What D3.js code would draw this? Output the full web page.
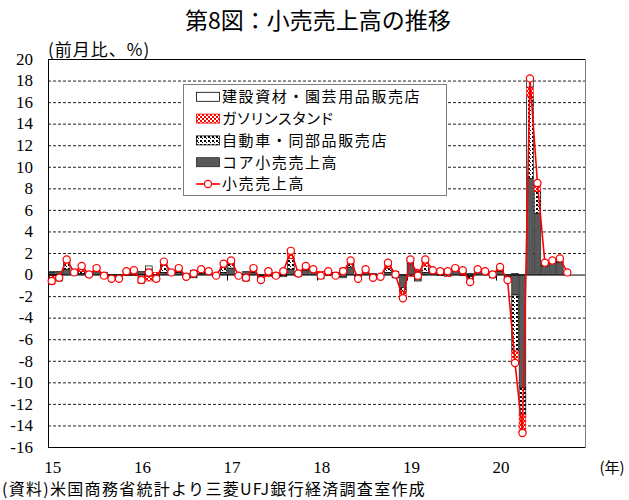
<!DOCTYPE html>
<html>
<head>
<meta charset="utf-8">
<script src="https://cdn.jsdelivr.net/npm/d3@7"></script>
<style>
  html, body { margin: 0; padding: 0; background: #fff; }
  svg { display: block; }
  .jp { font-family: "Noto Sans CJK JP", "Noto Sans", sans-serif; }
  .palt { font-feature-settings: "palt"; }
  .num { font-family: "Liberation Serif", "DejaVu Serif", serif; }
</style>
</head>
<body>
<svg id="chart" width="629" height="500"></svg>
<script>
// ---- data (前月比, %) Jan 2015 – Oct 2020 ----
const years = ["15", "16", "17", "18", "19", "20"];
const yTicks = [20, 18, 16, 14, 12, 10, 8, 6, 4, 2, 0, -2, -4, -6, -8, -10, -12, -14, -16];

const retailTotal = [
  -0.6, -0.3, 1.4, 0.2, 0.8, 0.0, 0.6, -0.1, -0.4, -0.4, 0.3, 0.4,
  -0.5, 0.2, -0.4, 1.2, 0.2, 0.6, -0.2, 0.1, 0.5, 0.3, -0.1, 1.0,
  1.3, -0.1, -0.3, 0.6, -0.5, 0.3, -0.1, 0.3, 2.2, 0.1, 0.8, 0.5,
  -0.1, 0.3, -0.1, 0.3, 1.3, -0.4, 0.5, -0.3, -0.2, 1.1, 0.0, -2.2,
  1.4, -0.1, 1.4, 0.4, 0.3, 0.3, 0.6, 0.4, -0.7, 0.5, 0.3, 0.0,
  0.7, -0.5, -8.2, -14.7, 18.2, 8.5, 1.1, 1.3, 1.5, 0.2
];
const coreRetail = [
  0.2, 0.3, 0.5, 0.1, 0.1, 0.0, 0.3, -0.1, 0.0, -0.1, 0.2, 0.4,
  0.3, -0.2, 0.0, 0.2, 0.0, 0.2, 0.0, 0.4, 0.1, 0.0, 0.0, 0.2,
  0.6, 0.1, 0.3, 0.2, -0.1, 0.4, 0.1, 0.2, 0.5, -0.1, 0.4, 0.4,
  0.1, 0.0, -0.2, 0.4, 0.7, -0.1, 0.3, -0.3, 0.0, 0.2, 0.3, -1.2,
  1.0, 0.4, 0.2, 0.2, 0.3, 0.3, 0.4, 0.2, -0.2, 0.3, 0.1, 0.2,
  0.3, -0.2, -1.9, -10.5, 8.9, 5.7, 0.8, 1.1, 1.1, 0.2
];
const autoDealers = [
  -0.1, -0.2, 0.6, 0.1, 0.2, -0.2, 0.2, 0.1, -0.1, -0.2, 0.1, 0.1,
  -0.4, 0.5, -0.5, 0.7, 0.0, 0.1, 0.1, -0.3, 0.2, 0.1, -0.1, 0.5,
  0.4, -0.1, -0.2, 0.2, -0.2, 0.1, -0.3, -0.1, 1.0, 0.2, 0.1, 0.1,
  -0.3, 0.3, 0.2, -0.2, 0.3, -0.3, 0.1, -0.1, -0.1, 0.4, 0.0, -0.4,
  0.4, -0.5, 0.6, 0.0, 0.1, 0.2, 0.0, 0.3, -0.5, 0.1, 0.1, -0.3,
  0.1, -0.1, -5.2, -2.5, 7.6, 2.0, 0.2, 0.1, 0.4, 0.0
];
const gasStations = [
  -0.8, -0.3, 0.2, 0.0, 0.4, 0.2, 0.1, -0.2, -0.3, -0.1, -0.1, -0.1,
  -0.3, -0.4, 0.2, 0.2, 0.2, 0.2, -0.2, 0.0, 0.2, 0.1, 0.0, 0.2,
  0.1, -0.1, -0.1, 0.1, -0.2, -0.2, 0.1, 0.3, 0.5, -0.1, 0.2, 0.0,
  0.2, -0.1, -0.1, 0.2, 0.2, 0.0, 0.1, 0.0, -0.1, 0.3, -0.2, -0.5,
  -0.2, 0.1, 0.4, 0.2, 0.0, -0.2, 0.1, -0.1, -0.1, 0.1, 0.0, 0.1,
  0.1, -0.2, -1.2, -1.5, 0.9, 0.6, 0.1, 0.0, 0.0, -0.1
];
const buildingMaterials = [
  0.1, -0.1, 0.1, 0.0, 0.1, 0.0, 0.0, 0.1, 0.0, 0.0, 0.1, 0.0,
  -0.1, 0.3, -0.1, 0.1, 0.0, 0.1, -0.1, 0.0, 0.0, 0.1, 0.0, 0.1,
  0.2, 0.0, -0.3, 0.1, 0.0, 0.0, 0.0, -0.1, 0.2, 0.1, 0.1, 0.0,
  -0.1, 0.1, 0.0, -0.1, 0.1, 0.0, 0.0, 0.1, 0.0, 0.2, -0.1, -0.1,
  0.2, -0.1, 0.2, 0.0, -0.1, 0.0, 0.1, 0.0, 0.1, 0.0, 0.1, 0.0,
  0.2, 0.0, 0.1, -0.2, 0.8, 0.2, 0.0, 0.1, 0.0, 0.1
];
const totalMonths = 72; // axis spans Jan 2015 – Dec 2020

const seriesNames = {
  bm: "建設資材・園芸用品販売店",
  gas: "ガソリンスタンド",
  auto: "自動車・同部品販売店",
  core: "コア小売売上高",
  total: "小売売上高"
};

// ---- build table ----
const months = d3.range(totalMonths);
const rows = retailTotal.map((v, i) => ({
  i, core: coreRetail[i], auto: autoDealers[i], gas: gasStations[i], bm: buildingMaterials[i], total: v
}));

const svg = d3.select("#chart");
const L = 48, R = 586, T = 59, B = 447;

// patterns
const defs = svg.append("defs");
const pGas = defs.append("pattern").attr("id", "pGas").attr("patternUnits", "userSpaceOnUse")
  .attr("width", 4).attr("height", 4);
pGas.append("rect").attr("width", 4).attr("height", 4).attr("fill", "#fff");
pGas.append("rect").attr("width", 2).attr("height", 2).attr("fill", "#ff0000");
pGas.append("rect").attr("x", 2).attr("y", 2).attr("width", 2).attr("height", 2).attr("fill", "#ff0000");
const pAuto = defs.append("pattern").attr("id", "pAuto").attr("patternUnits", "userSpaceOnUse")
  .attr("width", 4).attr("height", 4);
pAuto.append("rect").attr("width", 4).attr("height", 4).attr("fill", "#fff");
pAuto.append("rect").attr("width", 2).attr("height", 2).attr("fill", "#000");
pAuto.append("rect").attr("x", 2).attr("y", 2).attr("width", 1).attr("height", 1).attr("fill", "#000");

const styles = {
  core: { fill: "#595959", stroke: "#262626" },
  auto: { fill: "url(#pAuto)", stroke: "#000" },
  gas: { fill: "url(#pGas)", stroke: "#ff0000" },
  bm: { fill: "#ffffff", stroke: "#000" }
};

const x = d3.scaleBand().domain(months).range([L, R]).paddingInner(0.12).paddingOuter(0.06);
const y = d3.scaleLinear().domain([-16, 20]).range([B, T]);

// gridlines
svg.append("g").selectAll("line").data(yTicks.filter(t => t !== 0 && t !== 20 && t !== -16)).join("line")
  .attr("x1", L).attr("x2", R).attr("y1", d => y(d) + 0.5).attr("y2", d => y(d) + 0.5)
  .attr("stroke", "#222").attr("stroke-width", 1).attr("stroke-dasharray", "3,2");

// stacked bars
const keys = ["core", "auto", "gas", "bm"];
const stack = d3.stack().keys(keys).offset(d3.stackOffsetDiverging)(rows);
const barG = svg.append("g");
stack.forEach(s => {
  barG.append("g").selectAll("rect").data(s).join("rect")
    .attr("x", d => x(d.data.i))
    .attr("width", x.bandwidth())
    .attr("y", d => y(Math.max(d[0], d[1])))
    .attr("height", d => Math.abs(y(d[0]) - y(d[1])))
    .attr("fill", styles[s.key].fill)
    .attr("stroke", styles[s.key].stroke)
    .attr("stroke-width", 0.7);
});

// zero line + year ticks
svg.append("line").attr("x1", L).attr("x2", R).attr("y1", y(0) + 0.5).attr("y2", y(0) + 0.5)
  .attr("stroke", "#000").attr("stroke-width", 1);
const step = x.step();
svg.append("g").selectAll("line").data(d3.range(1, years.length)).join("line")
  .attr("x1", k => Math.round(x(k * 12) - step * x.paddingInner() / 2) + 0.5)
  .attr("x2", k => Math.round(x(k * 12) - step * x.paddingInner() / 2) + 0.5)
  .attr("y1", y(0)).attr("y2", y(0) + 6)
  .attr("stroke", "#000").attr("stroke-width", 1);

// plot border
svg.append("rect").attr("x", L + 0.5).attr("y", T + 0.5).attr("width", R - L - 1).attr("height", B - T)
  .attr("fill", "none").attr("stroke", "#000").attr("stroke-width", 1);
svg.append("line").attr("x1", R - 0.5).attr("x2", R - 0.5).attr("y1", T).attr("y2", B + 1)
  .attr("stroke", "#808080").attr("stroke-width", 1);

// line
const cx = i => x(i) + x.bandwidth() / 2;
svg.append("path").datum(rows)
  .attr("fill", "none").attr("stroke", "#ff0000").attr("stroke-width", 1.6)
  .attr("d", d3.line().x(d => cx(d.i)).y(d => y(d.total)));
svg.append("g").selectAll("circle").data(rows).join("circle")
  .attr("cx", d => cx(d.i)).attr("cy", d => y(d.total)).attr("r", 3.6)
  .attr("fill", "#fff").attr("stroke", "#ff0000").attr("stroke-width", 1.2);

// y axis labels
svg.append("g").selectAll("text").data(yTicks).join("text")
  .attr("class", "num").attr("x", 33).attr("y", d => y(d)).attr("dy", "0.34em")
  .attr("text-anchor", "end").attr("font-size", 17).text(d => d);

// x labels
svg.append("g").selectAll("text").data(years).join("text")
  .attr("class", "num").attr("x", (d, k) => cx(k * 12) + 1).attr("y", 472.5)
  .attr("text-anchor", "middle").attr("font-size", 17).text(d => d);

svg.append("text").attr("class", "jp").attr("x", 612).attr("y", 472.5).attr("text-anchor", "middle")
  .attr("font-size", 15).text("(年)");

// titles
svg.append("text").attr("class", "jp").attr("x", 318).attr("y", 29).attr("text-anchor", "middle")
  .attr("font-size", 23).text("第8図：小売売上高の推移");
svg.append("text").attr("class", "jp").attr("x", 48).attr("y", 56)
  .attr("font-size", 17).attr("letter-spacing", 1).text("(前月比、%)");
svg.append("text").attr("class", "jp").attr("x", 2).attr("y", 495.2)
  .attr("font-size", 16).attr("letter-spacing", 1.3).text("(資料)米国商務省統計より三菱UFJ銀行経済調査室作成");

// legend
const lg = svg.append("g");
lg.append("rect").attr("x", 183.5).attr("y", 84.5).attr("width", 263).attr("height", 111)
  .attr("fill", "#fff").attr("stroke", "#7f7f7f").attr("stroke-width", 1);
const legendItems = ["bm", "gas", "auto", "core", "total"];
legendItems.forEach((k, j) => {
  const ly = 96.8 + j * 21.8;
  if (k === "total") {
    lg.append("line").attr("x1", 196).attr("x2", 220).attr("y1", ly).attr("y2", ly)
      .attr("stroke", "#ff0000").attr("stroke-width", 1.6);
    lg.append("circle").attr("cx", 208).attr("cy", ly).attr("r", 3.6)
      .attr("fill", "#fff").attr("stroke", "#ff0000").attr("stroke-width", 1.2);
  } else {
    lg.append("rect").attr("x", 196.5).attr("y", ly - 4.5).attr("width", 23).attr("height", 9)
      .attr("fill", styles[k].fill).attr("stroke", styles[k].stroke).attr("stroke-width", 0.8);
  }
  lg.append("text").attr("class", k === "gas" ? "jp palt" : "jp").attr("x", 222).attr("y", ly).attr("dy", "0.36em")
    .attr("font-size", 15).attr("letter-spacing", k === "gas" ? 1 : 1.6).text(seriesNames[k]);
});
</script>
</body>
</html>
